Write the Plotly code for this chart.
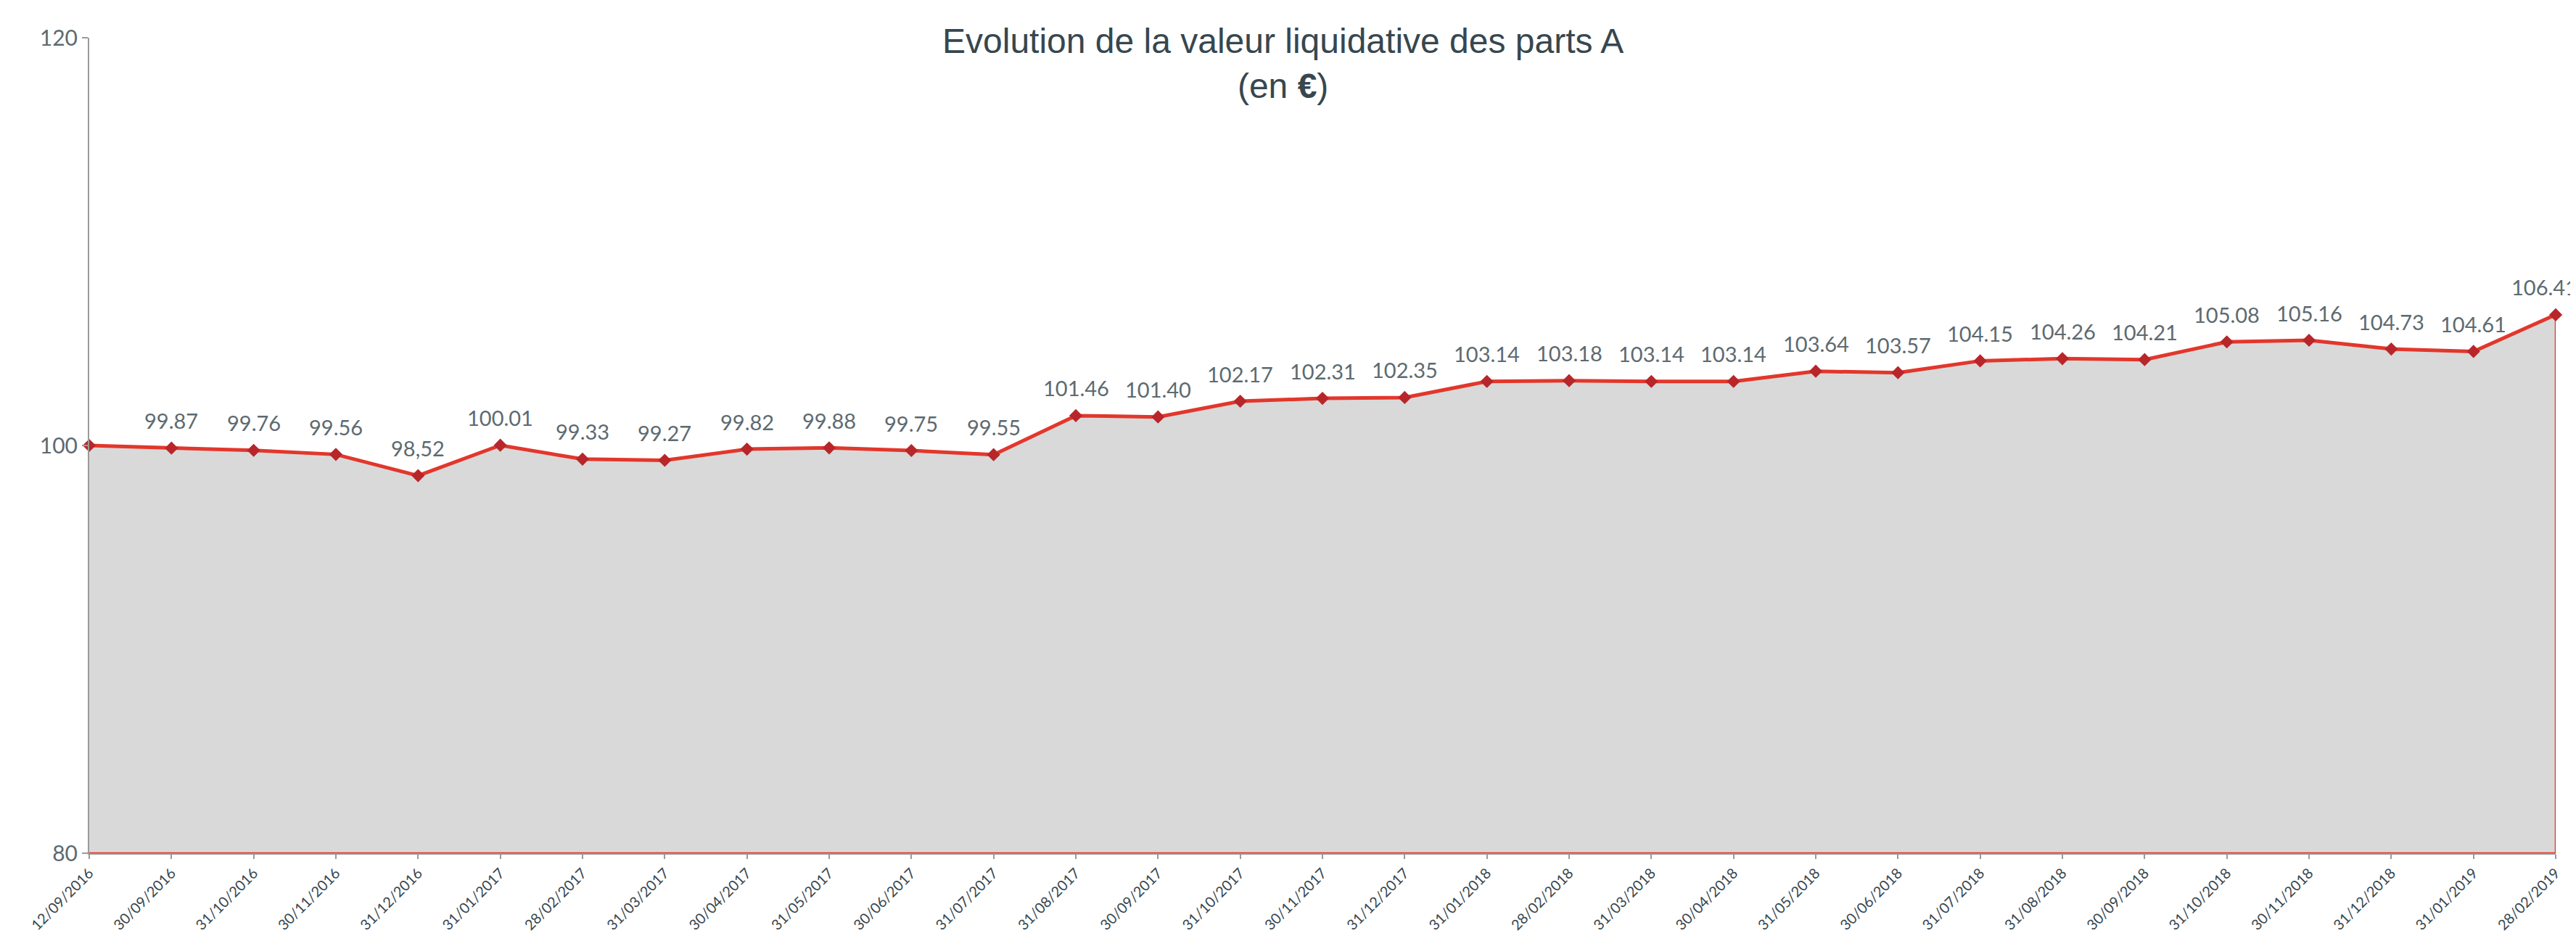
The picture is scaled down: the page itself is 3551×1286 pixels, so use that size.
import plotly.graph_objects as go

DATES = ["12/09/2016", "30/09/2016", "31/10/2016", "30/11/2016", "31/12/2016",
         "31/01/2017", "28/02/2017", "31/03/2017", "30/04/2017", "31/05/2017",
         "30/06/2017", "31/07/2017", "31/08/2017", "30/09/2017", "31/10/2017",
         "30/11/2017", "31/12/2017", "31/01/2018", "28/02/2018", "31/03/2018",
         "30/04/2018", "31/05/2018", "30/06/2018", "31/07/2018", "31/08/2018",
         "30/09/2018", "31/10/2018", "30/11/2018", "31/12/2018", "31/01/2019",
         "28/02/2019"]
VALUES = [100.00, 99.87, 99.76, 99.56, 98.52,
          100.01, 99.33, 99.27, 99.82, 99.88,
          99.75, 99.55, 101.46, 101.40, 102.17,
          102.31, 102.35, 103.14, 103.18, 103.14,
          103.14, 103.64, 103.57, 104.15, 104.26,
          104.21, 105.08, 105.16, 104.73, 104.61,
          106.41]
LABELS = ["", "99.87", "99.76", "99.56", "98,52",
          "100.01", "99.33", "99.27", "99.82", "99.88",
          "99.75", "99.55", "101.46", "101.40", "102.17",
          "102.31", "102.35", "103.14", "103.18", "103.14",
          "103.14", "103.64", "103.57", "104.15", "104.26",
          "104.21", "105.08", "105.16", "104.73", "104.61",
          "106.41"]
Y_MIN, Y_MAX, Y_STEP = 80, 120, 20
TITLE = "Evolution de la valeur liquidative des parts A<br>(en <b>€</b>)"

RED = "#e2372c"
MARKER_RED = "#b8262a"
FILL = "#d9d9d9"
AXIS = "#9a9a9a"
LABEL_GREY = "#5d6a70"

fig = go.Figure()

# grey area with red outline (closed down to the axis minimum)
fig.add_trace(go.Scatter(
    x=DATES + [DATES[-1], DATES[0]],
    y=VALUES + [Y_MIN, Y_MIN],
    mode="lines", fill="toself", fillcolor=FILL,
    line=dict(color=RED, width=2.5),
    hoverinfo="skip", showlegend=False,
))

# line with markers
fig.add_trace(go.Scatter(
    x=DATES, y=VALUES,
    mode="lines+markers",
    line=dict(color=RED, width=5),
    marker=dict(symbol="diamond", size=14, color=MARKER_RED),
    cliponaxis=False, showlegend=False,
))

# data labels
n = len(DATES)
for i, (d, v, lab) in enumerate(zip(DATES, VALUES, LABELS)):
    if lab:
        last = i == n - 1
        fig.add_annotation(
            x=d, y=v, xref="x", yref="y", text=lab, showarrow=False,
            yanchor="middle", yshift=38,
            xanchor=("right" if last else "center"), xshift=(32 if last else 0),
            font=dict(family="Lato", size=29, color=LABEL_GREY),
        )

fig.add_annotation(
    text=TITLE, xref="paper", yref="paper", x=0.484, y=1.021,
    xanchor="center", yanchor="top", showarrow=False,
    font=dict(family="Liberation Sans Narrow, Arial Narrow, Liberation Sans", size=48, color="#37474f"),
)

fig.update_layout(
    width=3551, height=1286,
    margin=dict(l=115, r=36, t=44, b=118),
    paper_bgcolor="white", plot_bgcolor="white",
    xaxis=dict(
        type="category", range=[0, n - 1],
        automargin=False,
        showgrid=False, zeroline=False,
        showline=True, linecolor=AXIS, linewidth=2,
        ticks="outside", ticklen=6, tickcolor=AXIS, tickwidth=2,
        tickangle=-45,
        tickfont=dict(family="Lato", size=20, color="#37474f"),
    ),
    yaxis=dict(
        range=[Y_MIN, Y_MAX], dtick=Y_STEP, tick0=Y_MIN,
        automargin=False,
        showgrid=False, zeroline=False,
        showline=True, linecolor=AXIS, linewidth=2,
        ticks="outside", ticklen=8, tickcolor=AXIS, tickwidth=2,
        tickfont=dict(family="Lato", size=30, color=LABEL_GREY),
    ),
)

fig.write_html("out.html")
